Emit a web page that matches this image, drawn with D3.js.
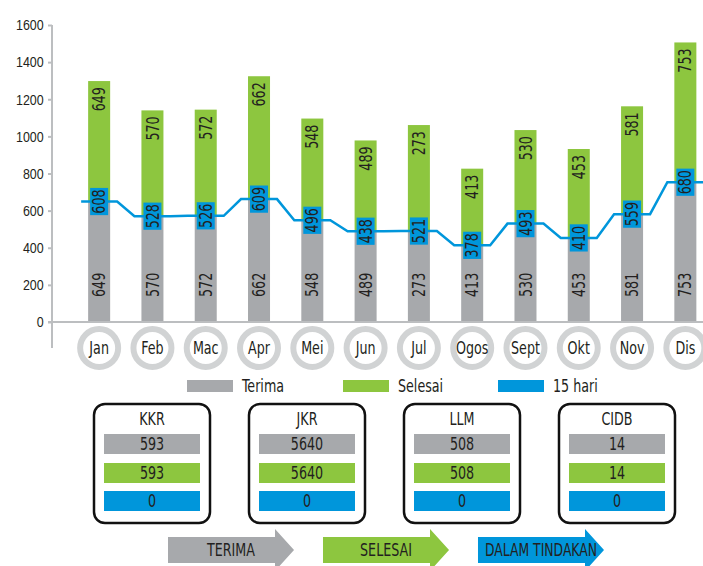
<!DOCTYPE html>
<html lang="en">
<head>
<meta charset="UTF-8">
<title>Aduan</title>
<style>
  body { margin:0; background:#fff; }
  svg { display:block; font-family:"DejaVu Sans Condensed","DejaVu Sans",sans-serif; }
  text { fill:#231f20; }
</style>
</head>
<body>
<svg id="CHART" width="703" height="566"></svg>
<script src="https://cdnjs.cloudflare.com/ajax/libs/d3/7.8.5/d3.min.js"></script>
<script>
// ---- data
const months = ["Jan","Feb","Mac","Apr","Mei","Jun","Jul","Ogos","Sept","Okt","Nov","Dis"];
// bar heights as drawn
const terima  = [649, 570, 572, 662, 548, 489, 490, 413, 530, 453, 581, 753];
const selesai = [649, 570, 572, 662, 548, 489, 571, 413, 504, 479, 581, 753];
// numbers printed on the bars
const terimaLabel  = [649, 570, 572, 662, 548, 489, 273, 413, 530, 453, 581, 753];
const selesaiLabel = [649, 570, 572, 662, 548, 489, 273, 413, 530, 453, 581, 753];
const hari15       = [608, 528, 526, 609, 496, 438, 521, 378, 493, 410, 559, 680];
const yTicks = [0, 200, 400, 600, 800, 1000, 1200, 1400, 1600];

const agencies  = ["KKR", "JKR", "LLM", "CIDB"];
const agTerima  = [593, 5640, 508, 14];
const agSelesai = [593, 5640, 508, 14];
const agTindak  = [0, 0, 0, 0];

const arrowLabels = ["TERIMA", "SELESAI", "DALAM TINDAKAN"];

const GRAY = "#a7a9ac", GREEN = "#8dc63f", BLUE = "#0096db", AXIS = "#bcbec0";
const SQ = 0.83; // squeeze text to look like a condensed face

const svg = d3.select("#CHART");

// text helper: position, optional rotation, then horizontal squeeze
function label(parent, tx, ty, str, size, anchor, rot) {
    return parent.append("text")
        .attr("transform", `translate(${tx},${ty})${rot ? ` rotate(${rot})` : ""} scale(${SQ},1)`)
        .attr("text-anchor", anchor || "middle")
        .attr("dy", "0.36em")
        .attr("font-size", size)
        .text(str);
}

const x = d3.scaleBand().domain(months).range([72.5, 712]).paddingInner(0.587).paddingOuter(0.2935);
const y = d3.scaleLinear().domain([0, 1600]).range([322, 25]);
const cx = m => x(m) + x.bandwidth() / 2;

// ---- axes
const yAxis = svg.append("g")
    .attr("transform", "translate(52,0)")
    .call(d3.axisLeft(y).tickValues(yTicks).tickFormat(d3.format("d")).tickSize(4).tickSizeOuter(0).tickPadding(6));
yAxis.select(".domain").remove();
yAxis.selectAll(".tick line").attr("stroke", AXIS).attr("stroke-width", 2);
yAxis.selectAll(".tick text")
    .attr("font-size", 15).attr("font-family", null).attr("fill", null)
    .attr("transform", `scale(${SQ},1)`);

svg.append("line").attr("x1", 52).attr("x2", 52).attr("y1", y(1600)).attr("y2", 348)
    .attr("stroke", AXIS).attr("stroke-width", 2);

// ---- stacked bars
const bars = svg.append("g");
bars.selectAll("rect.t").data(months).join("rect")
    .attr("x", d => x(d)).attr("width", x.bandwidth())
    .attr("y", (d, i) => y(terima[i])).attr("height", (d, i) => y(0) - y(terima[i]))
    .attr("fill", GRAY);
bars.selectAll("rect.s").data(months).join("rect")
    .attr("x", d => x(d)).attr("width", x.bandwidth())
    .attr("y", (d, i) => y(terima[i] + selesai[i])).attr("height", (d, i) => y(terima[i]) - y(terima[i] + selesai[i]))
    .attr("fill", GREEN);

svg.append("line").attr("x1", 48).attr("x2", 703).attr("y1", y(0)).attr("y2", y(0))
    .attr("stroke", AXIS).attr("stroke-width", 2);

// vertical labels on bars
const barLabels = svg.append("g");
months.forEach((m, i) => {
    label(barLabels, cx(m), y(0) - 25, terimaLabel[i], 17, "start", -90);
    label(barLabels, cx(m), y(terima[i] + selesai[i]) + 6, selesaiLabel[i], 17, "end", -90);
});

// ---- 15 hari line (sits on the grey/green boundary)
const pts = [];
months.forEach((m, i) => {
    pts.push([cx(m) - 18, y(terima[i])]);
    pts.push([cx(m) + 18, y(terima[i])]);
});
svg.append("path").attr("d", d3.line()(pts))
    .attr("fill", "none").attr("stroke", BLUE).attr("stroke-width", 2.5);

const tags = svg.append("g");
months.forEach((m, i) => {
    const g = tags.append("g").attr("transform", `translate(${cx(m)},${y(terima[i])}) rotate(-90)`);
    const t = label(g, 0, 0, hari15[i], 17, "middle");
    const w = t.node().getComputedTextLength() * SQ + 3;
    g.insert("rect", "text").attr("x", -w / 2).attr("y", -9).attr("width", w).attr("height", 18).attr("fill", BLUE);
});

// ---- month badges
const badge = svg.append("g");
months.forEach(m => {
    badge.append("circle").attr("cx", cx(m)).attr("cy", 348).attr("r", 19)
        .attr("fill", "#fff").attr("stroke", "#d1d3d4").attr("stroke-width", 6);
    label(badge, cx(m), 348, m, 17);
});

// ---- legend
const legendNames = ["Terima", "Selesai", "15 hari"];
const legendCols = [GRAY, GREEN, BLUE];
const legendX = [187, 343, 498];
const lg = svg.append("g");
legendNames.forEach((n, i) => {
    lg.append("rect").attr("x", legendX[i]).attr("y", 380).attr("width", 46).attr("height", 12).attr("fill", legendCols[i]);
    label(lg, legendX[i] + 55, 386, n, 17, "start");
});

// ---- agency boxes
const bx = d3.scaleBand().domain(agencies).range([94, 675]).paddingInner(0.2516);
const bw = bx.bandwidth();
const rows = [[agTerima, GRAY, 30], [agSelesai, GREEN, 59], [agTindak, BLUE, 87]];
const boxes = svg.append("g");
agencies.forEach((a, i) => {
    const g = boxes.append("g").attr("transform", `translate(${bx(a)},404)`);
    g.append("rect").attr("width", bw).attr("height", 119).attr("rx", 11)
        .attr("fill", "#fff").attr("stroke", "#111").attr("stroke-width", 2.5);
    label(g, bw / 2, 15, a, 17);
    rows.forEach(([vals, col, top]) => {
        g.append("rect").attr("x", 10).attr("y", top).attr("width", bw - 20).attr("height", 20).attr("fill", col);
        label(g, bw / 2, top + 10, vals[i], 17);
    });
});

// ---- arrows
const ax = d3.scaleBand().domain(arrowLabels).range([168, 604]).paddingInner(0.187);
const aw = ax.bandwidth();
const arrowCols = [GRAY, GREEN, BLUE];
const arrows = svg.append("g");
arrowLabels.forEach((a, i) => {
    const g = arrows.append("g").attr("transform", `translate(${ax(a)},550)`);
    g.append("path")
        .attr("d", `M0,-13 H${aw - 19} V-21 L${aw},0 L${aw - 19},21 V13 H0 Z`)
        .attr("fill", arrowCols[i]);
    const t = label(g, aw / 2, 0, a, 17);
    if (t.node().getComputedTextLength() * SQ > 112) {
        t.attr("textLength", 112 / SQ).attr("lengthAdjust", "spacingAndGlyphs");
    }
});
</script>
</body>
</html>
